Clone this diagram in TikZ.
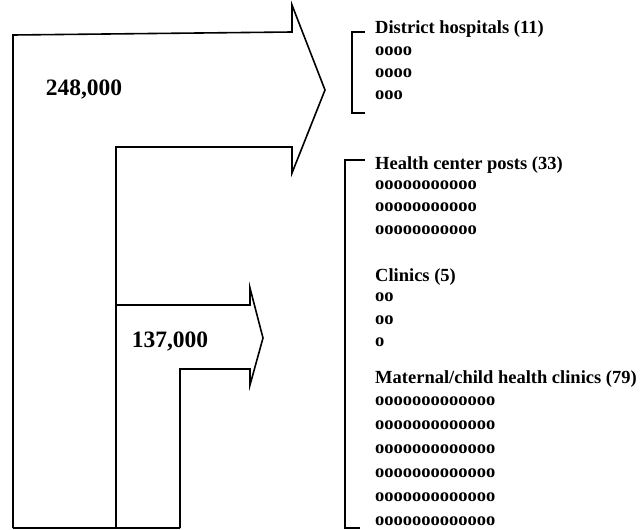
\documentclass[tikz,border=0pt]{standalone}
\usepackage{fontspec}
\setmainfont{Liberation Serif}
\usepackage{tikz}

\tikzset{
  flow/.style={draw=black,line width=1.6pt,line join=miter},
  amount/.style={font=\fontsize{23.5}{26}\selectfont\bfseries},
  group/.style={anchor=base west,inner sep=0pt,font=\fontsize{18.5}{22}\selectfont\bfseries},
}

\begin{document}
\begin{tikzpicture}[x=1pt,y=-1pt]
   \useasboundingbox (0,0) rectangle (641,530);
   % arrows
   \draw[flow] (13,528) -- (13,35) -- (292,32) -- (292,5) -- (325,90) -- (292,173)
      -- (292,147) -- (116,147) -- (116,528);
   \draw[flow] (116,305) -- (250,305) -- (250,288) -- (263,338) -- (250,385)
      -- (250,369) -- (180,369) -- (180,528);
   \draw[flow] (13,528) -- (180,528);
   \node[amount] (big) at (84,90) {248,000};
   \node[amount] (small) at (170,342) {137,000};
   % brackets
   \draw[flow] (365,32) -- (352,32) -- (352,113) -- (365,113);
   \draw[flow] (365,160) -- (345,160) -- (345,528) -- (360,528);
   \begin{scope}[every node/.style={group}]
    \node (dh) at (375,33) {District hospitals (11)};
    \node (dh1) at (375,55) {oooo};
    \node (dh2) at (375,77) {oooo};
    \node (dh3) at (375,99) {ooo};
    \node (hc) at (375,169) {Health center posts (33)};
    \node (hc1) at (375,189) {ooooooooooo};
    \node (hc2) at (375,211) {ooooooooooo};
    \node (hc3) at (375,234) {ooooooooooo};
    \node (cl) at (375,281) {Clinics (5)};
    \node (cl1) at (375,301) {oo};
    \node (cl2) at (375,324) {oo};
    \node (cl3) at (375,346) {o};
    \node (mc) at (375,383) {Maternal/child health clinics (79)};
    \node (mc1) at (375,405) {ooooooooooooo};
    \node (mc2) at (375,429) {ooooooooooooo};
    \node (mc3) at (375,453) {ooooooooooooo};
    \node (mc4) at (375,477) {ooooooooooooo};
    \node (mc5) at (375,501) {ooooooooooooo};
    \node (mc6) at (375,525) {ooooooooooooo};
   \end{scope}
\end{tikzpicture}
\end{document}
